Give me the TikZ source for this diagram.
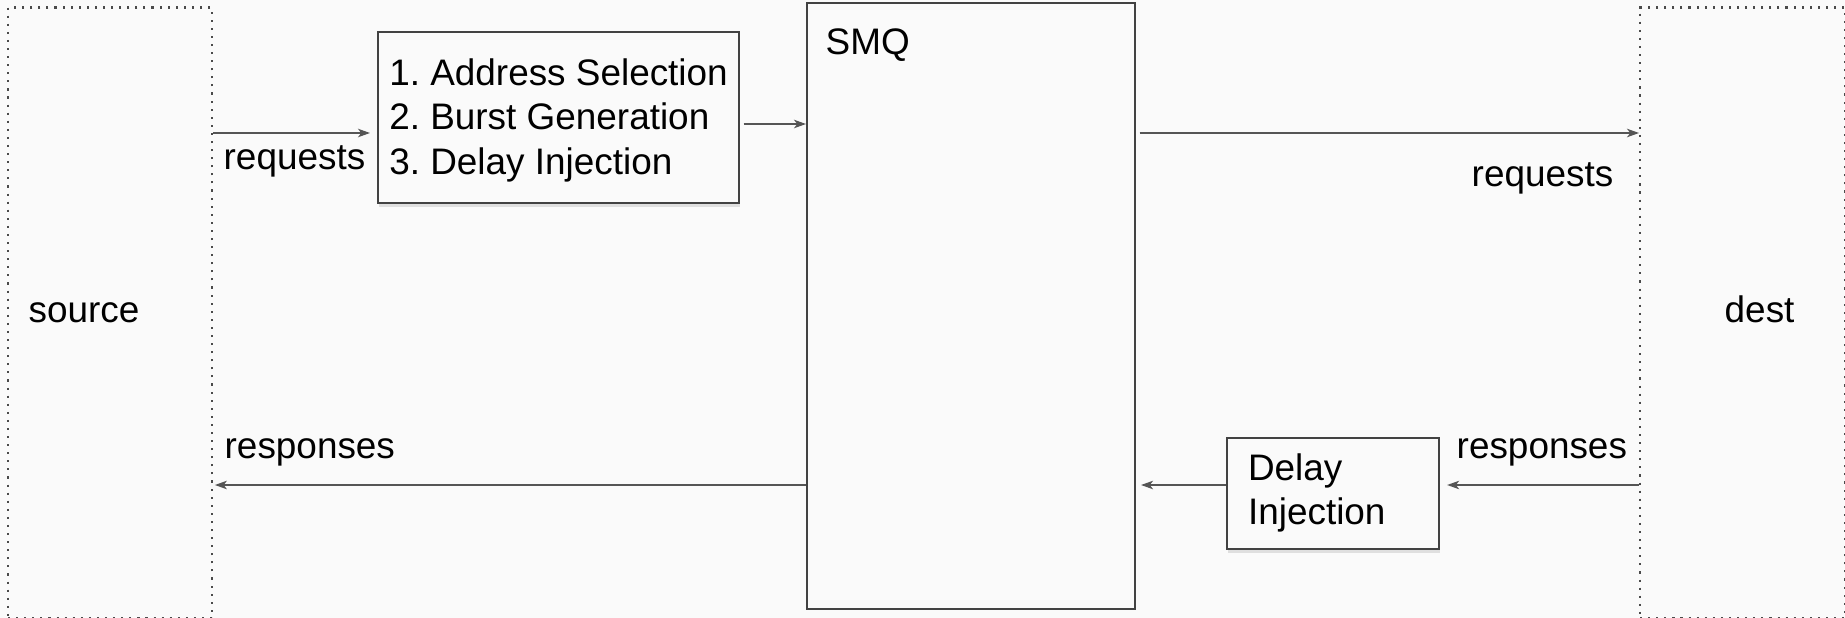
\documentclass[tikz,border=0pt]{standalone}
\usepackage{fontspec}
\setmainfont{Liberation Sans}
\usepackage{tikz}
\usetikzlibrary{calc}
\usetikzlibrary{arrows.meta}
\usetikzlibrary{shadows}
\definecolor{bgcol}{HTML}{FAFAFA}
\definecolor{boxcol}{HTML}{424242}
\definecolor{arrcol}{HTML}{555555}
\definecolor{dotcol}{HTML}{4A4A4A}
\tikzset{>={Stealth[length=3.4pt, width=2.4pt, inset=0.9pt]}}
\tikzset{every node/.style = {font=\fontsize{10.5}{12.6}\selectfont\frenchspacing}}
\tikzset{lbl/.style = {inner sep=0, anchor=base west}}
\tikzset{endbox/.style = {rectangle, draw=dotcol, line width=0.6pt, dash pattern=on 0.6pt off 1.7pt, inner sep=0, anchor=north west}}
\tikzset{procbox/.style = {rectangle, draw=boxcol, line width=0.6pt, fill=bgcol, anchor=north west, drop shadow={shadow xshift=0.4pt, shadow yshift=-1.1pt, opacity=0.22}}}
\tikzset{arr/.style = {->, draw=arrcol, line width=0.45pt}}

\begin{document}
\begin{tikzpicture}
\fill [bgcol] (0, 0) rectangle (18.45, -6.18);
\useasboundingbox (0, 0) rectangle (18.45, -6.18);
% end points
\node [endbox, minimum width=2.04cm, minimum height=6.105cm] (src) at (0.07, -0.065) {};
\node [endbox, minimum width=2.05cm, minimum height=6.105cm] (dst) at (16.39, -0.065) {};
\node [lbl] (srclbl) at (0.28, -3.22) {source};
\node [lbl] (dstlbl) at (17.24, -3.22) {dest};
% traffic generator and SMQ
\node [procbox, align=left, inner xsep=0.05cm, minimum width=3.61cm, minimum height=1.71cm] (gen) at (3.77, -0.31) {\rule{0pt}{9.2pt}1. Address Selection\\2. Burst Generation\\3. Delay Injection};
\node [rectangle, draw=boxcol, line width=0.6pt, anchor=north west, minimum width=3.28cm, minimum height=6.06cm] (smq) at (8.06, -0.017) {};
\node [lbl] (smqlbl) at ([xshift=0.19cm, yshift=-0.53cm]smq.north west) {SMQ};
\node [procbox, align=flush left, inner xsep=0.21cm, minimum height=1.115cm, text width=1.70cm] (dly) at (12.26, -4.365) {Delay\\Injection};
\coordinate (ytop) at (0, -1.33);
\coordinate (ymid) at (0, -1.24);
\coordinate (ybot) at (0, -4.85);
\draw [arr, shorten >=2pt] (src.east |- ytop) to (gen.west |- ytop);
\draw [arr, shorten <=1pt] (gen.east |- ymid) to (smq.west |- ymid);
\draw [arr, shorten <=1pt] (smq.east |- ytop) to (dst.west |- ytop);
\draw [arr, shorten >=2pt] (dst.west |- ybot) to (dly.east |- ybot);
\draw [arr, shorten >=1.4pt] (dly.west |- ybot) to (smq.east |- ybot);
\draw [arr, shorten >=0.5pt] (smq.west |- ybot) to (src.east |- ybot);
\node [lbl] (reqin) at (2.23, -1.70) {requests};
\node [lbl] (reqout) at (14.71, -1.865) {requests};
\node [lbl] (rspout) at (2.24, -4.58) {responses};
\node [lbl] (rspin) at (14.56, -4.58) {responses};
\end{tikzpicture}
\end{document}
